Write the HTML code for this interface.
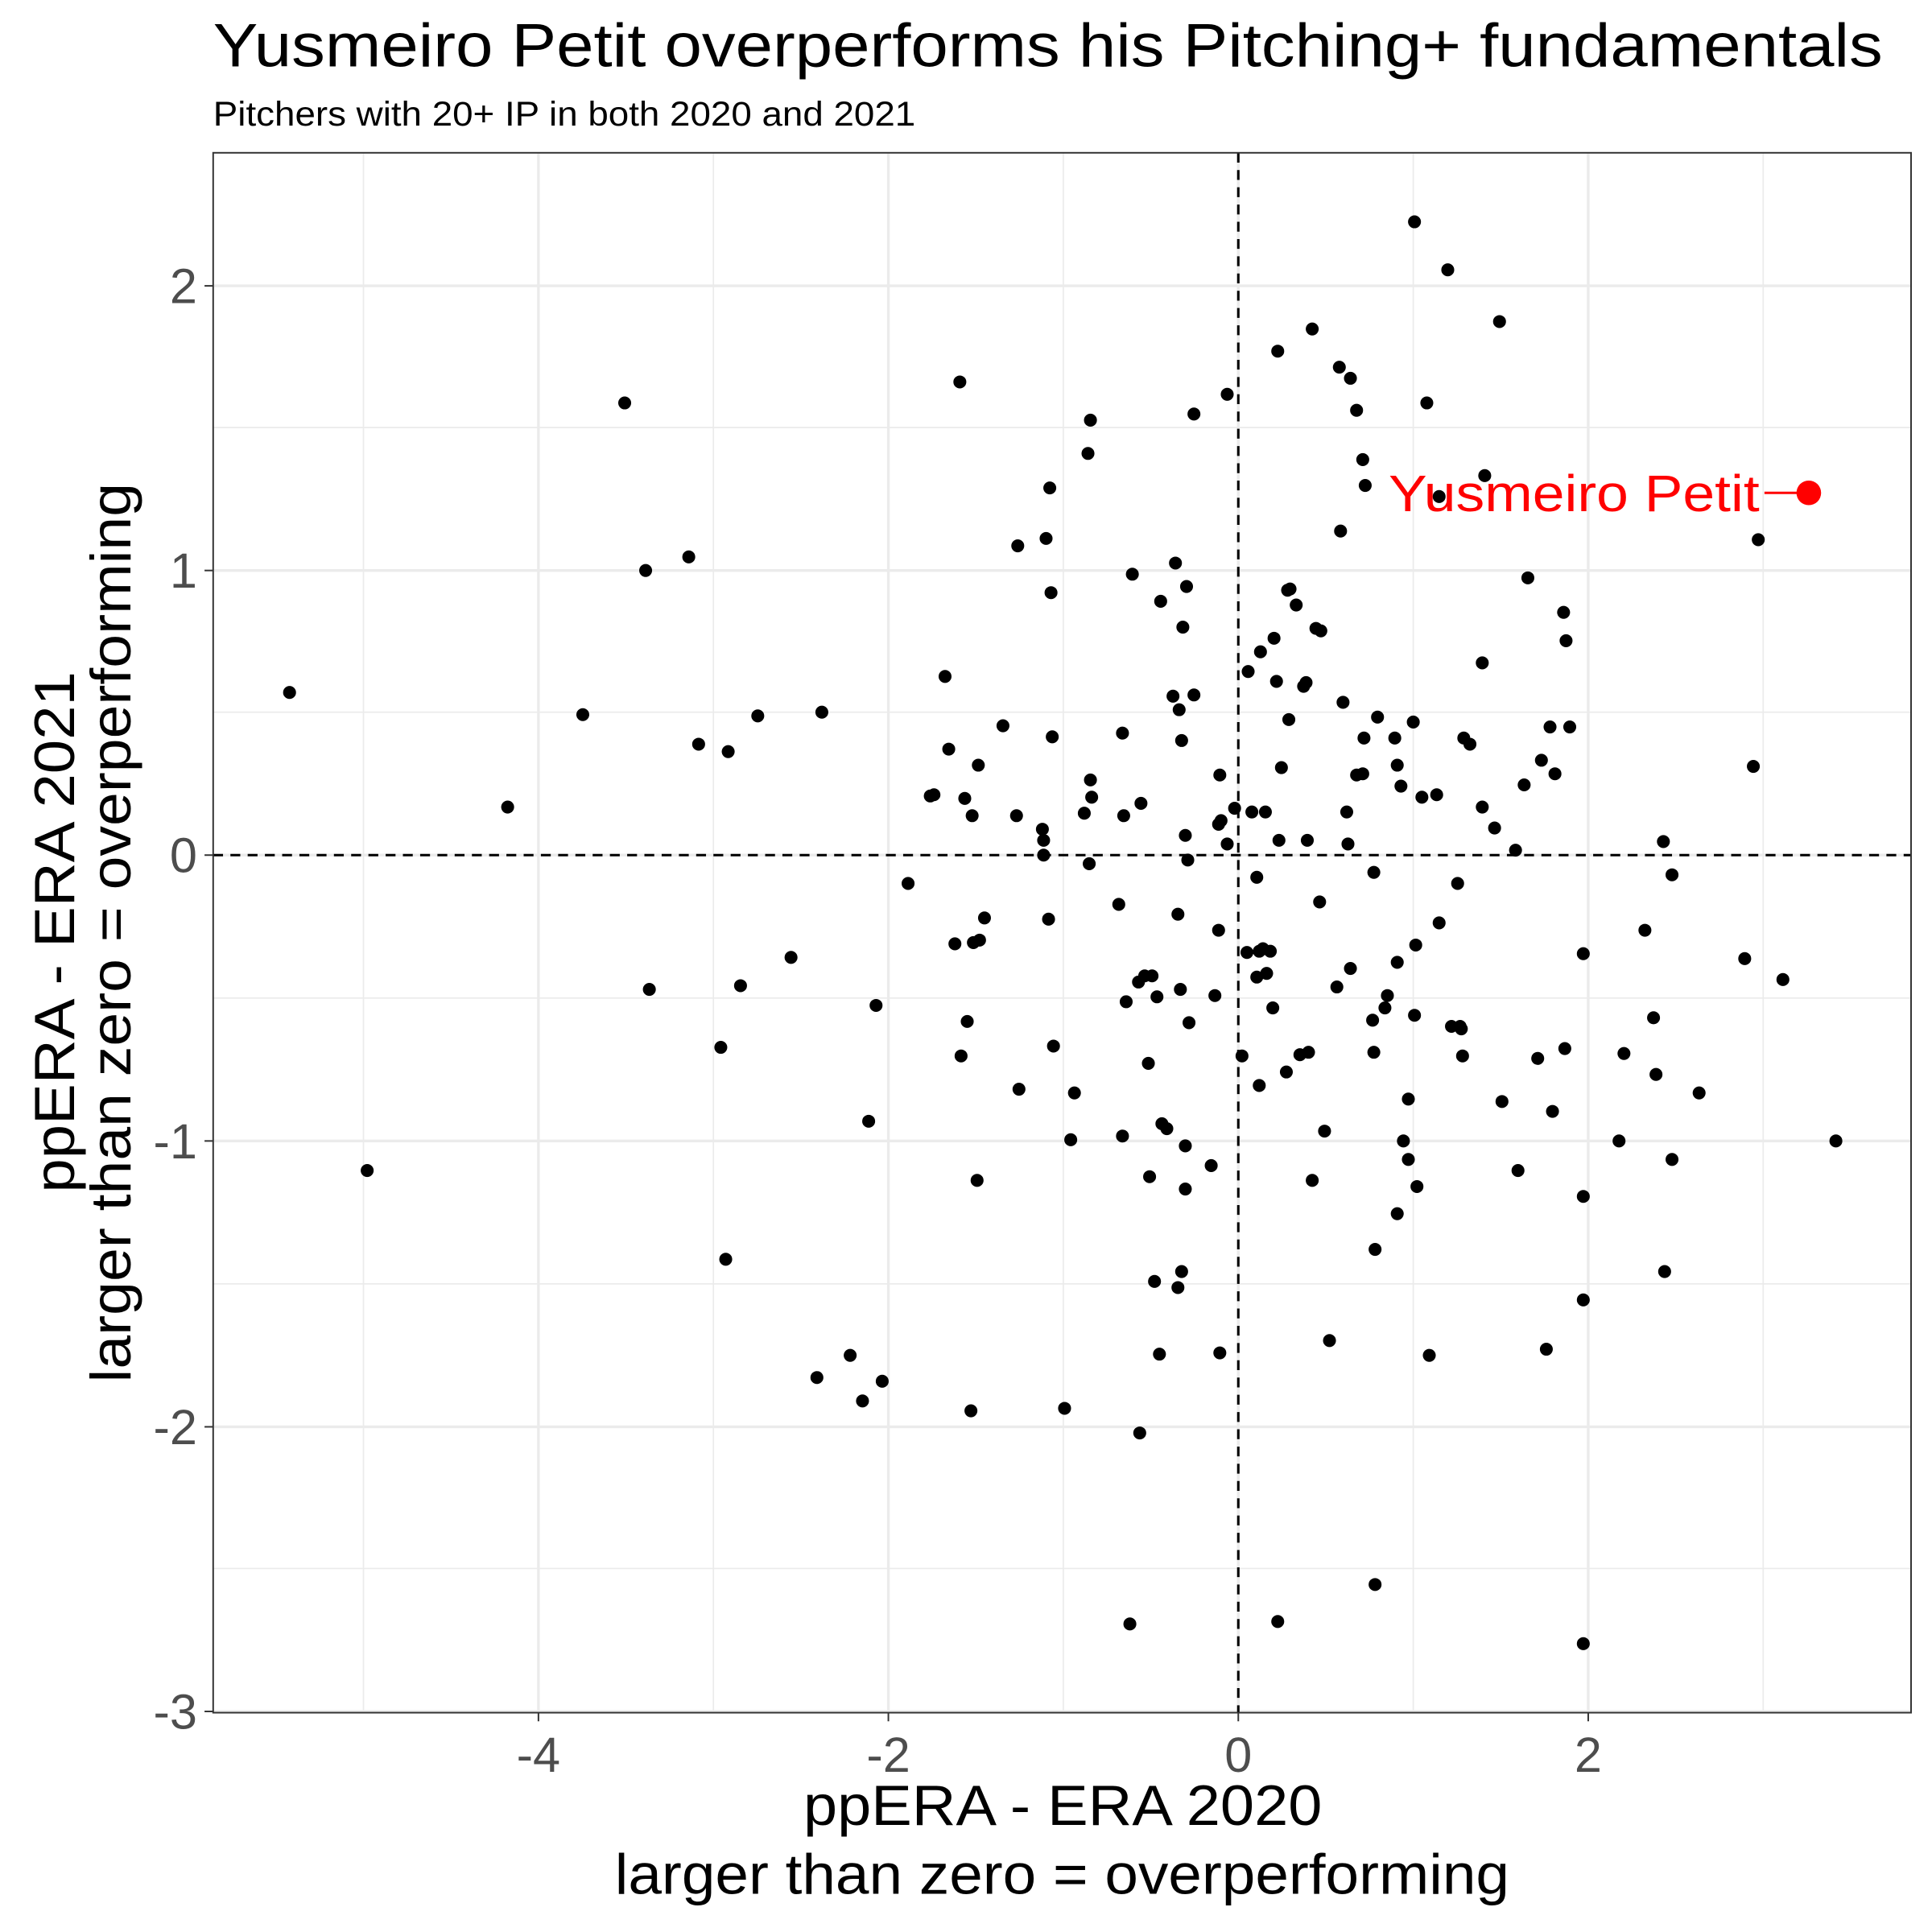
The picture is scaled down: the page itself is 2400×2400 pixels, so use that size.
<!DOCTYPE html>
<html><head><meta charset="utf-8"><style>html,body{margin:0;padding:0;background:#fff}svg{display:block}</style></head>
<body>
<svg xmlns="http://www.w3.org/2000/svg" width="2400" height="2400" viewBox="0 0 1568 1568" font-family="Liberation Sans, Arial, sans-serif">
<rect width="1568" height="1568" fill="#fff"/>
<text x="173" y="54" font-size="50" fill="#000" textLength="1355" lengthAdjust="spacingAndGlyphs">Yusmeiro Petit overperforms his Pitching+ fundamentals</text>
<text x="173" y="102" font-size="28" fill="#000" textLength="570" lengthAdjust="spacingAndGlyphs">Pitchers with 20+ IP in both 2020 and 2021</text>
<g stroke="#ebebeb" stroke-width="1.1">
<line x1="295" y1="124" x2="295" y2="1390"/><line x1="579" y1="124" x2="579" y2="1390"/><line x1="863" y1="124" x2="863" y2="1390"/><line x1="1147" y1="124" x2="1147" y2="1390"/><line x1="1431" y1="124" x2="1431" y2="1390"/>
<line x1="173" y1="347" x2="1551" y2="347"/><line x1="173" y1="578" x2="1551" y2="578"/><line x1="173" y1="810" x2="1551" y2="810"/><line x1="173" y1="1042" x2="1551" y2="1042"/><line x1="173" y1="1273" x2="1551" y2="1273"/>
</g>
<g stroke="#ebebeb" stroke-width="2.2">
<line x1="437" y1="124" x2="437" y2="1390"/><line x1="721" y1="124" x2="721" y2="1390"/><line x1="1005" y1="124" x2="1005" y2="1390"/><line x1="1289" y1="124" x2="1289" y2="1390"/>
<line x1="173" y1="232" x2="1551" y2="232"/><line x1="173" y1="463" x2="1551" y2="463"/><line x1="173" y1="694" x2="1551" y2="694"/><line x1="173" y1="926" x2="1551" y2="926"/><line x1="173" y1="1158" x2="1551" y2="1158"/><line x1="173" y1="1389" x2="1551" y2="1389"/>
</g>
<line x1="173" y1="694" x2="1551" y2="694" stroke="#000" stroke-width="2" stroke-dasharray="8,6"/>
<line x1="1005" y1="124" x2="1005" y2="1390" stroke="#000" stroke-width="2" stroke-dasharray="8,6"/>
<path fill="none" stroke="#000" stroke-width="10.5" stroke-linecap="round" d="M235 562h0M298 950h0M412 655h0M473 580h0M507 327h0M524 463h0M527 803h0M559 452h0M567 604h0M585 850h0M591 610h0M589 1022h0M601 800h0M615 581h0M642 777h0M663 1118h0M667 578h0M690 1100h0M700 1137h0M705 910h0M711 816h0M716 1121h0M737 717h0M755 646h0M758 645h0M767 549h0M770 608h0M775 766h0M779 310h0M783 648h0M785 829h0M780 857h0M789 662h0M790 765h0M794 621h0M793 958h0M788 1145h0M795 763h0M799 745h0M814 589h0M826 443h0M825 662h0M827 884h0M846 673h0M847 682h0M847 694h0M849 437h0M851 746h0M852 396h0M853 481h0M854 598h0M855 849h0M864 1143h0M872 887h0M869 925h0M880 660h0M883 368h0M884 701h0M885 341h0M885 633h0M886 647h0M908 734h0M911 595h0M911 922h0M912 662h0M914 813h0M917 1318h0M919 466h0M925 1163h0M926 652h0M924 797h0M929 792h0M932 863h0M933 955h0M935 792h0M937 1040h0M939 809h0M941 1099h0M942 488h0M943 912h0M947 916h0M952 565h0M954 457h0M956 742h0M956 1045h0M957 576h0M958 803h0M959 601h0M959 1032h0M960 509h0M962 678h0M962 930h0M962 965h0M963 476h0M964 698h0M965 830h0M969 564h0M969 336h0M983 946h0M986 808h0M989 755h0M989 669h0M990 1098h0M990 629h0M991 666h0M996 320h0M996 685h0M1002 656h0M1008 857h0M1012 773h0M1013 545h0M1016 659h0M1020 712h0M1020 793h0M1022 772h0M1022 881h0M1023 529h0M1025 770h0M1027 659h0M1028 790h0M1031 772h0M1033 818h0M1034 518h0M1036 553h0M1037 285h0M1038 682h0M1037 1316h0M1040 623h0M1044 870h0M1045 479h0M1046 584h0M1047 478h0M1052 491h0M1055 856h0M1058 557h0M1060 554h0M1061 682h0M1062 854h0M1065 958h0M1065 267h0M1068 510h0M1071 732h0M1072 512h0M1075 918h0M1079 1088h0M1085 801h0M1087 298h0M1088 431h0M1090 570h0M1093 659h0M1094 685h0M1096 307h0M1096 786h0M1101 333h0M1101 629h0M1106 373h0M1108 394h0M1106 628h0M1107 599h0M1114 828h0M1115 854h0M1115 708h0M1116 1014h0M1116 1286h0M1118 582h0M1124 818h0M1126 808h0M1132 599h0M1134 621h0M1134 781h0M1134 985h0M1137 638h0M1139 926h0M1143 892h0M1143 941h0M1147 586h0M1148 180h0M1148 824h0M1149 767h0M1150 963h0M1154 647h0M1160 1100h0M1158 327h0M1166 645h0M1168 403h0M1168 749h0M1175 219h0M1178 833h0M1183 717h0M1185 833h0M1186 835h0M1187 857h0M1188 599h0M1193 604h0M1203 538h0M1203 655h0M1205 386h0M1213 672h0M1217 261h0M1219 894h0M1230 690h0M1232 950h0M1237 637h0M1240 469h0M1251 617h0M1248 859h0M1255 1095h0M1258 590h0M1260 902h0M1262 628h0M1269 497h0M1271 520h0M1274 590h0M1270 851h0M1285 774h0M1285 971h0M1285 1055h0M1285 1334h0M1314 926h0M1318 855h0M1335 755h0M1342 826h0M1344 872h0M1350 683h0M1351 1032h0M1357 941h0M1357 710h0M1379 887h0M1416 778h0M1423 622h0M1427 438h0M1447 795h0M1490 926h0"/>
<line x1="1432" y1="400" x2="1460" y2="400" stroke="#f00" stroke-width="2"/>
<circle cx="1468" cy="400" r="10" fill="#f00"/>
<text x="1127" y="415" font-size="42" fill="#f00" textLength="301" lengthAdjust="spacingAndGlyphs">Yusmeiro Petit</text>
<rect x="173" y="124" width="1378" height="1266" fill="none" stroke="#333" stroke-width="1.3"/>
<g stroke="#333" stroke-width="1.3">
<line x1="437" y1="1390" x2="437" y2="1397"/><line x1="721" y1="1390" x2="721" y2="1397"/><line x1="1005" y1="1390" x2="1005" y2="1397"/><line x1="1289" y1="1390" x2="1289" y2="1397"/>
<line x1="166" y1="232" x2="173" y2="232"/><line x1="166" y1="463" x2="173" y2="463"/><line x1="166" y1="694" x2="173" y2="694"/><line x1="166" y1="926" x2="173" y2="926"/><line x1="166" y1="1158" x2="173" y2="1158"/><line x1="166" y1="1389" x2="173" y2="1389"/>
</g>
<g font-size="40" fill="#4d4d4d" text-anchor="middle">
<text x="437" y="1438">-4</text><text x="721" y="1438">-2</text><text x="1005" y="1438">0</text><text x="1289" y="1438">2</text>
</g>
<g font-size="40" fill="#4d4d4d" text-anchor="end">
<text x="160" y="246">2</text><text x="160" y="477">1</text><text x="160" y="708">0</text><text x="160" y="940">-1</text><text x="160" y="1172">-2</text><text x="160" y="1403">-3</text>
</g>
<g font-size="46" fill="#000">
<text x="652" y="1481" textLength="421" lengthAdjust="spacingAndGlyphs">ppERA - ERA 2020</text>
<text x="499" y="1537" textLength="726" lengthAdjust="spacingAndGlyphs">larger than zero = overperforming</text>
<text transform="translate(60,968) rotate(-90)" textLength="423" lengthAdjust="spacingAndGlyphs">ppERA - ERA 2021</text>
<text transform="translate(106,1122) rotate(-90)" textLength="730" lengthAdjust="spacingAndGlyphs">larger than zero = overperforming</text>
</g>
</svg>
</body></html>
